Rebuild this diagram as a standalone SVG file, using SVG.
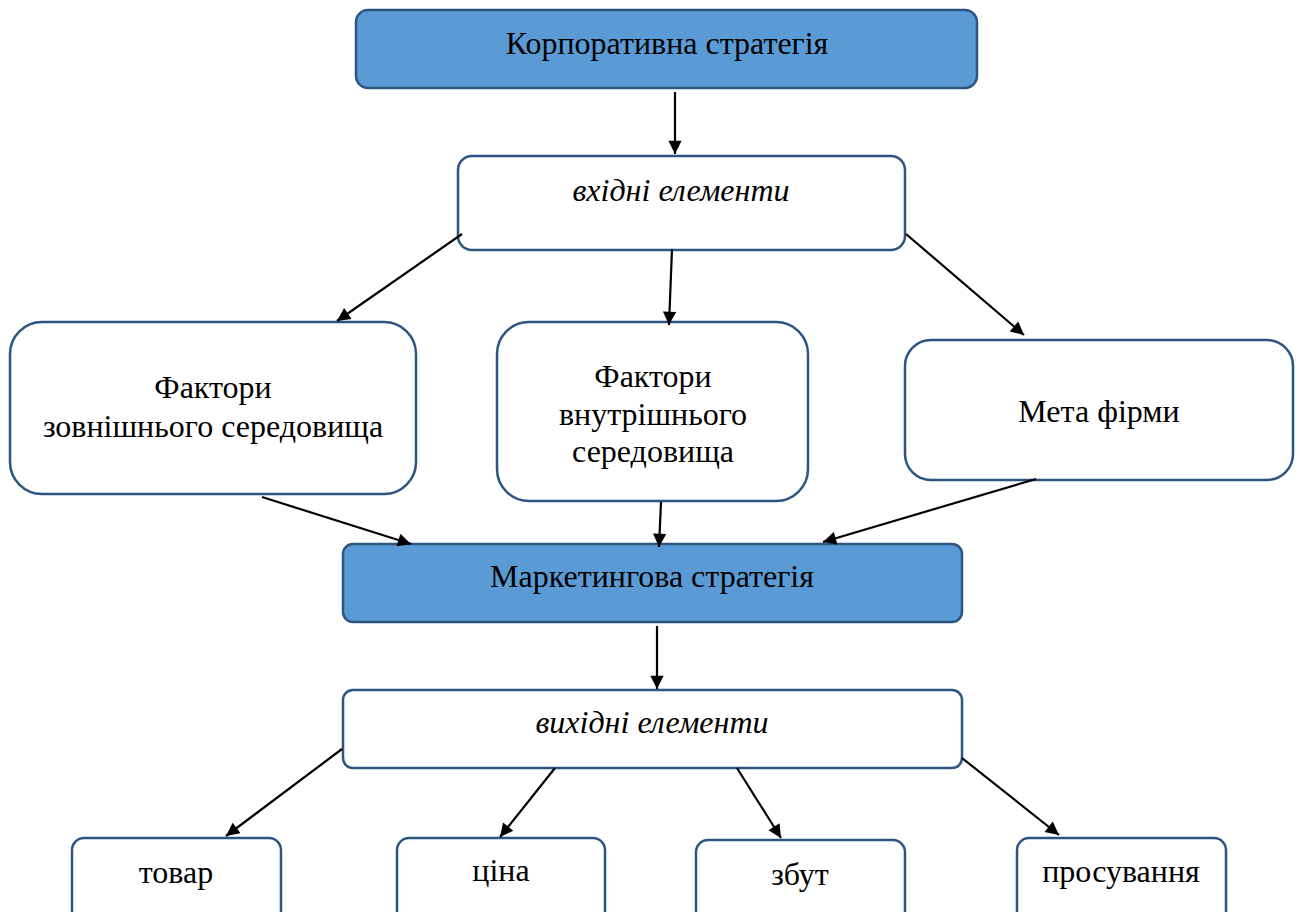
<svg xmlns="http://www.w3.org/2000/svg" width="1300" height="912" viewBox="0 0 1300 912">
<defs>
<marker id="ah" viewBox="0 0 10 10" refX="10" refY="5" markerWidth="7" markerHeight="6" markerUnits="strokeWidth" orient="auto">
<path d="M0,0 L10,5 L0,10 z" fill="#000"/>
</marker>
<style>
.blue{fill:#5b9bd5;stroke:#2c5582;stroke-width:2.5}
.white{fill:#fff;stroke:#2c5582;stroke-width:2.5}
.t{font-size:32px;fill:#000;text-anchor:middle}
.it{font-style:italic}
.c line{stroke:#000;stroke-width:2.2;marker-end:url(#ah)}
</style>
</defs>
<rect width="1300" height="912" fill="#fff"/>
<g font-family="Liberation Serif, Times New Roman, serif">
<g id="corp"><rect class="blue" x="356" y="10" width="621" height="78" rx="12"/><text class="t" x="667" y="54">Корпоративна стратегія</text></g>
<g id="input"><rect class="white" x="458" y="156" width="447" height="94" rx="14"/><text class="t it" x="681" y="201">вхідні елементи</text></g>
<g id="ext"><rect class="white" x="10" y="322" width="406" height="172" rx="32"/><text class="t" x="213" y="398">Фактори</text><text class="t" x="213" y="437">зовнішнього середовища</text></g>
<g id="int"><rect class="white" x="497" y="322" width="311" height="179" rx="32"/><text class="t" x="653" y="387">Фактори</text><text class="t" x="653" y="425">внутрішнього</text><text class="t" x="653" y="462">середовища</text></g>
<g id="goal"><rect class="white" x="905" y="340" width="388" height="140" rx="26"/><text class="t" x="1099" y="422">Мета фірми</text></g>
<g id="mkt"><rect class="blue" x="343" y="544" width="619" height="78" rx="10"/><text class="t" x="652" y="587">Маркетингова стратегія</text></g>
<g id="output"><rect class="white" x="343" y="690" width="619" height="78" rx="10"/><text class="t it" x="652" y="733">вихідні елементи</text></g>
<g id="product"><rect class="white" x="72" y="838" width="209" height="90" rx="12"/><text class="t" x="176" y="883">товар</text></g>
<g id="price"><rect class="white" x="397" y="838" width="208" height="90" rx="12"/><text class="t" x="501" y="881">ціна</text></g>
<g id="place"><rect class="white" x="696" y="840" width="209" height="90" rx="12"/><text class="t" x="800" y="885">збут</text></g>
<g id="promo"><rect class="white" x="1017" y="838" width="209" height="90" rx="12"/><text class="t" x="1121" y="882">просування</text></g>
</g>
<g id="connectors" class="c">
<line x1="675" y1="92" x2="675" y2="154"/>
<line x1="462" y1="234" x2="337" y2="321"/>
<line x1="672" y1="249" x2="669" y2="325"/>
<line x1="906" y1="234" x2="1024" y2="335"/>
<line x1="262" y1="497" x2="411" y2="544"/>
<line x1="661" y1="502" x2="659" y2="547"/>
<line x1="1036" y1="479" x2="823" y2="542"/>
<line x1="657" y1="626" x2="657" y2="689"/>
<line x1="342" y1="749" x2="226" y2="836"/>
<line x1="555" y1="768" x2="500" y2="837"/>
<line x1="737" y1="768" x2="781" y2="838"/>
<line x1="962" y1="758" x2="1059" y2="835"/>
</g>
</svg>
